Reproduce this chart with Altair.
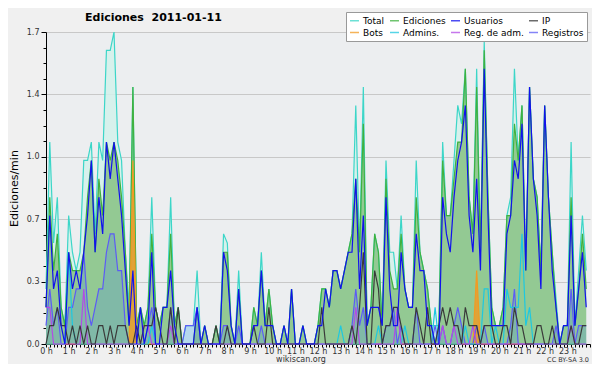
import altair as alt
import pandas as pd

minutes = list(range(0, 1440, 10))

total = [
    0.3, 1.1, 0.55, 0.8, 0.2, 0.1,
    0.7, 0.5, 0.4, 0.5, 1.0, 1.0,
    1.1, 0.6, 1.1, 1.0, 1.6, 1.6,
    1.7, 1.1, 1.0, 0.5, 0.2, 1.4,
    0.1, 0.2, 0.1, 0.2, 0.8, 0.2,
    0.1, 0.2, 0.2, 0.8, 0.1, 0.2,
    0.0, 0.1, 0.1, 0.1, 0.4, 0.0,
    0.1, 0.0, 0.0, 0.1, 0.0, 0.6,
    0.55, 0.1, 0.0, 0.4, 0.0, 0.0,
    0.0, 0.2, 0.1, 0.5, 0.1, 0.3,
    0.1, 0.0, 0.0, 0.1, 0.0, 0.3,
    0.0, 0.0, 0.1, 0.0, 0.0, 0.0,
    0.1, 0.3, 0.3, 0.2, 0.4, 0.4,
    0.3, 0.4, 0.5, 0.6, 1.3, 0.5,
    1.4, 0.1, 0.2, 0.6, 0.5, 0.1,
    1.0, 0.5, 0.5, 0.3, 0.7, 0.3,
    0.2, 0.2, 1.0, 0.5, 0.4, 0.3,
    0.1, 0.1, 0.1, 1.1, 0.7, 0.7,
    1.0, 1.3, 1.2, 1.5, 0.8, 0.6,
    1.5, 0.5, 1.65, 0.8, 0.2, 0.1,
    0.1, 0.2, 0.7, 0.8, 1.5, 1.0,
    1.3, 0.4, 1.4, 0.9, 0.8, 0.4,
    1.3, 0.8, 0.5, 0.25, 0.0, 0.1,
    0.1, 1.1, 0.1, 0.4, 0.7, 0.4,
]

ediciones = [
    0.2, 0.8, 0.4, 0.6, 0.2, 0.1,
    0.5, 0.4, 0.4, 0.4, 0.5, 0.8,
    1.0, 0.5, 0.9, 0.7, 1.1, 1.0,
    1.1, 1.0, 0.8, 0.5, 0.1, 1.4,
    0.1, 0.2, 0.1, 0.2, 0.6, 0.2,
    0.1, 0.2, 0.2, 0.6, 0.1, 0.2,
    0.0, 0.0, 0.0, 0.0, 0.2, 0.0,
    0.1, 0.0, 0.0, 0.1, 0.0, 0.5,
    0.5, 0.1, 0.0, 0.3, 0.0, 0.0,
    0.0, 0.2, 0.1, 0.4, 0.1, 0.3,
    0.1, 0.0, 0.0, 0.1, 0.0, 0.3,
    0.0, 0.0, 0.1, 0.0, 0.0, 0.0,
    0.1, 0.3, 0.3, 0.2, 0.4, 0.4,
    0.3, 0.4, 0.5, 0.6, 0.9, 0.5,
    1.2, 0.1, 0.2, 0.6, 0.5, 0.1,
    0.9, 0.4, 0.3, 0.3, 0.6, 0.3,
    0.2, 0.2, 0.8, 0.5, 0.4, 0.3,
    0.1, 0.0, 0.1, 1.0, 0.7, 0.7,
    0.9, 1.1, 1.1, 1.5, 0.8, 0.6,
    1.4, 0.5, 1.6, 0.8, 0.2, 0.1,
    0.1, 0.2, 0.7, 0.7, 1.2, 1.0,
    1.3, 0.4, 1.4, 0.9, 0.8, 0.4,
    1.3, 0.8, 0.5, 0.2, 0.0, 0.1,
    0.1, 0.8, 0.1, 0.3, 0.6, 0.3,
]

usuarios = [
    0.2, 0.7, 0.3, 0.4, 0.1, 0.0,
    0.5, 0.3, 0.4, 0.3, 0.5, 0.7,
    1.0, 0.5, 0.8, 0.6, 1.1, 0.9,
    1.1, 0.9, 0.7, 0.4, 0.1, 0.4,
    0.0, 0.2, 0.0, 0.1, 0.5, 0.0,
    0.0, 0.2, 0.2, 0.4, 0.1, 0.0,
    0.0, 0.0, 0.0, 0.0, 0.2, 0.0,
    0.1, 0.0, 0.0, 0.0, 0.0, 0.5,
    0.4, 0.1, 0.0, 0.3, 0.0, 0.0,
    0.0, 0.1, 0.1, 0.4, 0.1, 0.1,
    0.1, 0.0, 0.0, 0.1, 0.0, 0.3,
    0.0, 0.0, 0.1, 0.0, 0.0, 0.0,
    0.1, 0.1, 0.3, 0.2, 0.4, 0.4,
    0.3, 0.4, 0.5, 0.5, 0.9, 0.3,
    0.7, 0.1, 0.2, 0.2, 0.2, 0.1,
    0.8, 0.3, 0.1, 0.1, 0.5, 0.3,
    0.2, 0.2, 0.6, 0.4, 0.4, 0.1,
    0.1, 0.0, 0.0, 0.8, 0.6, 0.5,
    0.8, 1.0, 1.1, 1.3, 0.7, 0.5,
    0.9, 0.4, 1.5, 0.7, 0.1, 0.1,
    0.1, 0.1, 0.6, 0.7, 1.0, 0.9,
    1.2, 0.4, 1.4, 0.9, 0.7, 0.3,
    1.3, 0.8, 0.4, 0.2, 0.0, 0.1,
    0.1, 0.7, 0.1, 0.3, 0.5, 0.2,
]

ip = [
    0.0, 0.1, 0.1, 0.2, 0.1, 0.1,
    0.0, 0.1, 0.0, 0.1, 0.0, 0.1,
    0.0, 0.0, 0.1, 0.1, 0.0, 0.1,
    0.0, 0.1, 0.1, 0.1, 0.0, 0.0,
    0.1, 0.0, 0.1, 0.1, 0.1, 0.2,
    0.1, 0.0, 0.0, 0.2, 0.0, 0.2,
    0.0, 0.0, 0.0, 0.0, 0.0, 0.0,
    0.0, 0.0, 0.0, 0.1, 0.0, 0.0,
    0.1, 0.0, 0.0, 0.0, 0.0, 0.0,
    0.0, 0.1, 0.0, 0.0, 0.0, 0.2,
    0.0, 0.0, 0.0, 0.0, 0.0, 0.0,
    0.0, 0.0, 0.0, 0.0, 0.0, 0.0,
    0.0, 0.2, 0.0, 0.0, 0.0, 0.0,
    0.0, 0.0, 0.0, 0.1, 0.0, 0.2,
    0.5, 0.0, 0.0, 0.4, 0.3, 0.0,
    0.1, 0.1, 0.2, 0.2, 0.1, 0.0,
    0.0, 0.0, 0.2, 0.1, 0.0, 0.2,
    0.0, 0.0, 0.1, 0.2, 0.1, 0.2,
    0.1, 0.1, 0.0, 0.2, 0.1, 0.1,
    0.1, 0.0, 0.1, 0.1, 0.1, 0.0,
    0.0, 0.1, 0.1, 0.0, 0.2, 0.1,
    0.1, 0.0, 0.0, 0.0, 0.1, 0.1,
    0.0, 0.0, 0.1, 0.0, 0.0, 0.0,
    0.0, 0.1, 0.0, 0.0, 0.1, 0.1,
]

bots = [
    0.0, 0.0, 0.0, 0.0, 0.0, 0.0,
    0.0, 0.0, 0.0, 0.0, 0.0, 0.0,
    0.0, 0.0, 0.0, 0.0, 0.0, 0.0,
    0.0, 0.0, 0.0, 0.0, 0.0, 1.0,
    0.0, 0.0, 0.0, 0.0, 0.0, 0.0,
    0.0, 0.0, 0.0, 0.0, 0.0, 0.0,
    0.0, 0.0, 0.0, 0.0, 0.0, 0.0,
    0.0, 0.0, 0.0, 0.0, 0.0, 0.0,
    0.0, 0.0, 0.0, 0.0, 0.0, 0.0,
    0.0, 0.0, 0.0, 0.0, 0.0, 0.0,
    0.0, 0.0, 0.0, 0.0, 0.0, 0.0,
    0.0, 0.0, 0.0, 0.0, 0.0, 0.0,
    0.0, 0.0, 0.0, 0.0, 0.0, 0.0,
    0.0, 0.0, 0.0, 0.0, 0.0, 0.0,
    0.0, 0.0, 0.0, 0.0, 0.0, 0.0,
    0.0, 0.0, 0.0, 0.0, 0.0, 0.0,
    0.0, 0.0, 0.0, 0.0, 0.0, 0.0,
    0.0, 0.0, 0.0, 0.0, 0.0, 0.0,
    0.0, 0.0, 0.0, 0.0, 0.0, 0.0,
    0.4, 0.0, 0.0, 0.0, 0.0, 0.0,
    0.0, 0.0, 0.0, 0.0, 0.0, 0.0,
    0.0, 0.0, 0.0, 0.0, 0.0, 0.0,
    0.0, 0.0, 0.0, 0.0, 0.0, 0.0,
    0.0, 0.0, 0.0, 0.0, 0.0, 0.0,
]

admins = [
    0.0, 0.0, 0.0, 0.0, 0.0, 0.0,
    0.5, 0.1, 0.0, 0.0, 0.0, 0.0,
    0.0, 0.0, 0.0, 0.0, 0.0, 0.0,
    0.0, 0.0, 0.0, 0.0, 0.0, 0.0,
    0.0, 0.0, 0.0, 0.0, 0.1, 0.0,
    0.0, 0.0, 0.0, 0.0, 0.0, 0.0,
    0.0, 0.0, 0.0, 0.0, 0.0, 0.0,
    0.0, 0.0, 0.0, 0.0, 0.0, 0.0,
    0.0, 0.0, 0.0, 0.0, 0.0, 0.0,
    0.0, 0.0, 0.0, 0.0, 0.0, 0.0,
    0.0, 0.0, 0.0, 0.0, 0.0, 0.0,
    0.0, 0.0, 0.0, 0.0, 0.0, 0.0,
    0.0, 0.0, 0.0, 0.0, 0.0, 0.0,
    0.1, 0.0, 0.0, 0.0, 0.0, 0.0,
    0.0, 0.0, 0.0, 0.0, 0.1, 0.0,
    0.0, 0.0, 0.0, 0.0, 0.0, 0.1,
    0.0, 0.0, 0.0, 0.0, 0.0, 0.0,
    0.0, 0.2, 0.0, 0.0, 0.0, 0.0,
    0.0, 0.0, 0.0, 0.1, 0.0, 0.0,
    0.0, 0.0, 0.3, 0.3, 0.0, 0.1,
    0.0, 0.0, 0.3, 0.2, 0.2, 0.2,
    0.6, 0.1, 0.2, 0.0, 0.0, 0.0,
    0.0, 0.0, 0.0, 0.0, 0.0, 0.0,
    0.0, 0.0, 0.0, 0.0, 0.0, 0.0,
]

reg_adm = [
    0.2, 0.2, 0.0, 0.0, 0.0, 0.0,
    0.0, 0.0, 0.0, 0.0, 0.3, 0.0,
    0.0, 0.0, 0.0, 0.0, 0.0, 0.0,
    0.0, 0.0, 0.0, 0.0, 0.0, 0.0,
    0.0, 0.0, 0.1, 0.1, 0.0, 0.0,
    0.0, 0.0, 0.0, 0.1, 0.0, 0.0,
    0.0, 0.0, 0.0, 0.0, 0.0, 0.0,
    0.0, 0.0, 0.0, 0.0, 0.0, 0.0,
    0.0, 0.0, 0.0, 0.0, 0.0, 0.0,
    0.0, 0.0, 0.0, 0.0, 0.0, 0.0,
    0.0, 0.0, 0.0, 0.0, 0.0, 0.0,
    0.0, 0.0, 0.0, 0.0, 0.0, 0.0,
    0.0, 0.0, 0.0, 0.0, 0.0, 0.0,
    0.0, 0.0, 0.0, 0.0, 0.2, 0.0,
    0.0, 0.0, 0.0, 0.0, 0.0, 0.0,
    0.0, 0.0, 0.0, 0.2, 0.0, 0.0,
    0.0, 0.0, 0.0, 0.0, 0.0, 0.0,
    0.0, 0.0, 0.0, 0.1, 0.0, 0.0,
    0.1, 0.0, 0.0, 0.0, 0.0, 0.1,
    0.0, 0.0, 0.0, 0.0, 0.0, 0.0,
    0.0, 0.0, 0.0, 0.0, 0.0, 0.0,
    0.0, 0.0, 0.0, 0.0, 0.0, 0.0,
    0.0, 0.0, 0.0, 0.0, 0.0, 0.0,
    0.0, 0.1, 0.0, 0.0, 0.0, 0.0,
]

registros = [
    0.1, 0.3, 0.1, 0.2, 0.0, 0.0,
    0.2, 0.2, 0.3, 0.3, 0.5, 0.2,
    0.1, 0.2, 0.3, 0.3, 0.5, 0.6,
    0.6, 0.4, 0.4, 0.1, 0.0, 0.0,
    0.0, 0.0, 0.0, 0.1, 0.2, 0.0,
    0.0, 0.0, 0.0, 0.2, 0.0, 0.0,
    0.0, 0.1, 0.1, 0.1, 0.2, 0.0,
    0.0, 0.0, 0.0, 0.0, 0.0, 0.1,
    0.1, 0.0, 0.0, 0.1, 0.0, 0.0,
    0.0, 0.0, 0.0, 0.1, 0.0, 0.0,
    0.0, 0.0, 0.0, 0.0, 0.0, 0.0,
    0.0, 0.0, 0.0, 0.0, 0.0, 0.0,
    0.0, 0.0, 0.0, 0.0, 0.0, 0.0,
    0.0, 0.0, 0.0, 0.1, 0.3, 0.1,
    0.2, 0.0, 0.0, 0.0, 0.0, 0.0,
    0.1, 0.1, 0.2, 0.0, 0.1, 0.0,
    0.0, 0.0, 0.2, 0.0, 0.0, 0.0,
    0.0, 0.1, 0.0, 0.1, 0.0, 0.0,
    0.1, 0.2, 0.1, 0.0, 0.0, 0.0,
    0.1, 0.0, 0.1, 0.0, 0.0, 0.0,
    0.0, 0.0, 0.0, 0.1, 0.3, 0.0,
    0.0, 0.0, 0.0, 0.0, 0.0, 0.0,
    0.0, 0.0, 0.0, 0.1, 0.0, 0.0,
    0.0, 0.3, 0.0, 0.1, 0.1, 0.1,
]

series_names = ["Total", "Ediciones", "Usuarios", "IP", "Bots", "Admins.", "Reg. de adm.", "Registros"]
series_values = [total, ediciones, usuarios, ip, bots, admins, reg_adm, registros]
line_colors = ["#3cd6c8", "#3fb13f", "#1111ee", "#3a3a3a", "#f29a22", "#1ec8e0", "#b34ae6", "#5c5cf5"]

y_ticks = [0.0, 0.085, 0.17, 0.255, 0.34, 0.425, 0.51, 0.595, 0.68, 0.765, 0.85,
           0.935, 1.02, 1.105, 1.19, 1.275, 1.36, 1.445, 1.53, 1.615, 1.7]
x_ticks = list(range(0, 1441, 10))

title_text = "Ediciones\u00a0 2011-01-11"
site_text = "wikiscan.org"
license_text = "CC BY-SA 3.0"

for v in series_values:
    assert len(v) == len(minutes), len(v)

rows = []
for name, vals in zip(series_names, series_values):
    for m, v in zip(minutes, vals):
        rows.append({"minute": m, "series": name, "value": v})
df = pd.DataFrame(rows)

FONT = "DejaVu Sans"
major_test = "round(datum.value*100) % 34 == 0"

x_enc = alt.X(
    "minute:Q",
    scale=alt.Scale(domain=[0, 1440], nice=False, zero=False),
    axis=alt.Axis(
        values=x_ticks,
        labelExpr="(datum.value % 60 == 0 && datum.value < 1440) ? (datum.value / 60) + ' h' : ''",
        title=None, grid=False, tickSize=3, tickColor="black", domainColor="black",
        labelFont=FONT, labelFontSize=8, labelColor="#333333", labelPadding=0,
        labelFlush=False, labelOverlap=False,
    ),
)
y_enc = alt.Y(
    "value:Q",
    scale=alt.Scale(domain=[0, 1.7], nice=False),
    axis=alt.Axis(
        values=y_ticks,
        labelExpr=f"({major_test}) ? format(datum.value, '.1f') : ''",
        title="Ediciones/min", titleFont=FONT, titleFontSize=11, titleFontWeight="normal",
        titleColor="black", titlePadding=7,
        tickSize={"condition": {"test": major_test, "value": 5}, "value": 3},
        tickColor="black", domainColor="black",
        grid=True, gridColor="#c8c8c8",
        gridOpacity={"condition": {"test": f"({major_test}) && datum.value > 0", "value": 1}, "value": 0},
        labelFont=FONT, labelFontSize=8, labelColor="#333333", labelPadding=2,
        labelOverlap=False, labelFlush=False,
    ),
)

color_scale = alt.Scale(domain=series_names, range=line_colors)
legend = alt.Legend(
    title=None, orient="none", legendX=300, legendY=-20, columns=4, direction="horizontal",
    gridAlign="each",
    symbolType="stroke", symbolSize=81, symbolStrokeWidth=1.5, symbolOpacity=0.75,
    labelFont=FONT, labelFontSize=9, labelColor="black", labelOffset=3,
    rowPadding=1, columnPadding=2, padding=3,
    fillColor="white", strokeColor="#999999", cornerRadius=0,
)


def sub(name):
    return alt.Chart(df).transform_filter(alt.datum.series == name)


area_total = sub("Total").mark_area(color="#d4f1eb", opacity=0.85).encode(x=x_enc, y=y_enc)
area_edic = sub("Ediciones").mark_area(color="#93c993", opacity=1).encode(x=x_enc, y=y_enc)
area_reg = sub("Registros").mark_area(color="#4080f0", opacity=0.22).encode(x=x_enc, y=y_enc)
area_bots = sub("Bots").mark_area(color="#f29a22", opacity=0.8).encode(x=x_enc, y=y_enc)

line_order = ["Total", "Ediciones", "Bots", "Registros", "Admins.", "Reg. de adm.", "IP", "Usuarios"]
lines = [
    sub(n).mark_line(strokeWidth=1.2).encode(
        x=x_enc, y=y_enc, color=alt.Color("series:N", scale=color_scale, legend=legend)
    )
    for n in line_order
]

txt_title = alt.Chart(pd.DataFrame({"t": [title_text]})).mark_text(
    font=FONT, fontSize=11, fontWeight="bold", color="black", align="left", baseline="alphabetic"
).encode(text="t:N", x=alt.value(39), y=alt.value(-11))
txt_site = alt.Chart(pd.DataFrame({"t": [site_text]})).mark_text(
    font=FONT, fontSize=8, color="#333333", align="center", baseline="alphabetic"
).encode(text="t:N", x=alt.value(255), y=alt.value(330))
txt_lic = alt.Chart(pd.DataFrame({"t": [license_text]})).mark_text(
    font=FONT, fontSize=6.5, color="#333333", align="right", baseline="alphabetic"
).encode(text="t:N", x=alt.value(543), y=alt.value(330))

chart = alt.layer(
    area_total, area_edic, area_reg, area_bots, *lines, txt_title, txt_site, txt_lic
).properties(
    width=544, height=312,
    autosize="none",
    padding={"left": 38, "top": 24, "right": 2, "bottom": 20},
    background="#f0f0f0",
).configure_view(fill="#eceef0", stroke="transparent")

chart.save("out.html", embed_options={"renderer": "svg", "actions": False})
